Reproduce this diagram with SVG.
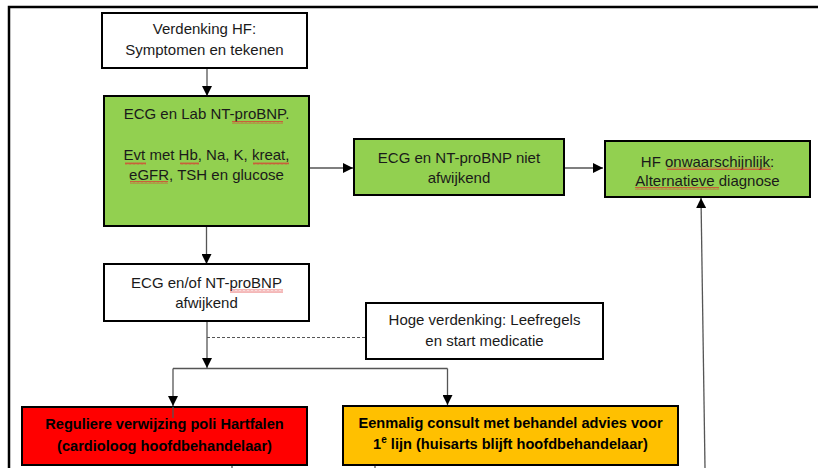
<svg xmlns="http://www.w3.org/2000/svg" width="818" height="468" viewBox="0 0 818 468">
<style>
.box{stroke:#000;stroke-width:2}
.w{fill:#fff}
.g{fill:#92D050}
.r{fill:#FF0000}
.y{fill:#FFC000}
.t{font-family:"Liberation Sans",Arial,sans-serif;font-size:15px;fill:#1a1a1a;text-anchor:middle}
.b{font-weight:bold;fill:#000;font-size:14.6px}
.c{fill:none;stroke:#555;stroke-width:1.3}
.d{fill:none;stroke:#555;stroke-width:1.2;stroke-dasharray:3,2}
.sq{fill:url(#zig)}
</style>
<defs>
<marker id="ah" viewBox="0 0 10 10" refX="10" refY="5" markerWidth="10" markerHeight="10" markerUnits="userSpaceOnUse" orient="auto">
<path d="M0,0 L10,5 L0,10 Z" fill="#000"/>
</marker>
<pattern id="zig" width="4" height="3" patternUnits="userSpaceOnUse">
<path d="M0,2.5 L1,0.5 L2,2.5 L3,0.5 L4,2.5" fill="none" stroke="#e03030" stroke-width="0.7"/>
</pattern>
</defs>
<rect width="818" height="468" fill="#fff"/>
<path d="M9,468 V7 H818" fill="none" stroke="#000" stroke-width="2.5"/>

<g id="connectors">
<path class="c" d="M207,68 V96" marker-end="url(#ah)"/>
<path class="c" d="M309,168 H353" marker-end="url(#ah)"/>
<path class="c" d="M564,168 H603" marker-end="url(#ah)"/>
<path class="c" d="M206.5,226 V264" marker-end="url(#ah)"/>
<path class="c" d="M207,321 V368" marker-end="url(#ah)"/>
<path class="d" d="M207,337.5 H366"/>
<path class="c" d="M173,368.5 H447.5"/>
<path class="c" d="M173,368.5 V406" marker-end="url(#ah)"/>
<path class="c" d="M447.5,368.5 V405" marker-end="url(#ah)"/>
<path class="c" d="M705,468 L701,198" marker-end="url(#ah)"/>
<path class="c" d="M232,465 V468"/>
<path class="c" d="M375,465 V468"/>
</g>

<g id="n1">
<rect class="box w" x="102" y="13" width="205" height="55"/>
<text class="t" x="204.5" y="34">Verdenking HF:</text>
<text class="t" x="204.5" y="55">Symptomen en tekenen</text>
</g>

<g id="n2">
<rect class="box g" x="104" y="96" width="205" height="130"/>
<text class="t" x="206.5" y="119">ECG en Lab NT-proBNP.</text>
<text class="t" x="206.5" y="160">Evt met Hb, Na, K, kreat,</text>
<text class="t" x="206.5" y="180">eGFR, TSH en glucose</text>
<rect class="sq" x="232" y="121" width="51" height="3"/>
<rect class="sq" x="125" y="162" width="21" height="3"/>
<rect class="sq" x="180" y="162" width="19" height="3"/>
<rect class="sq" x="253" y="162" width="36" height="3"/>
<rect class="sq" x="130" y="181" width="38" height="3"/>
</g>

<g id="n3">
<rect class="box g" x="354" y="139" width="210" height="56"/>
<text class="t" x="459" y="163">ECG en NT-proBNP niet</text>
<text class="t" x="459" y="183">afwijkend</text>
</g>

<g id="n4">
<rect class="box g" x="605" y="141" width="205" height="56"/>
<text class="t" x="707.5" y="167">HF onwaarschijnlijk:</text>
<text class="t" x="707.5" y="186">Alternatieve diagnose</text>
<rect class="sq" x="667" y="167" width="104" height="3"/>
<rect class="sq" x="635" y="187" width="84" height="3"/>
</g>

<g id="n5">
<rect class="box w" x="104" y="264" width="205" height="57"/>
<text class="t" x="206.5" y="288">ECG en/of NT-proBNP</text>
<text class="t" x="206.5" y="308">afwijkend</text>
<rect class="sq" x="230" y="289.5" width="53" height="3"/>
</g>

<g id="n6">
<rect class="box w" x="366" y="303" width="237" height="56"/>
<text class="t" x="484.5" y="325">Hoge verdenking: Leefregels</text>
<text class="t" x="484.5" y="346">en start medicatie</text>
</g>

<g id="n7">
<rect class="box r" x="22" y="407" width="285" height="58"/>
<text class="t b" x="164.5" y="429">Reguliere verwijzing poli Hartfalen</text>
<text class="t b" x="164.5" y="451">(cardioloog hoofdbehandelaar)</text>
<path class="c" d="M173,407 V418"/>
</g>

<g id="n8">
<rect class="box y" x="343" y="406" width="335" height="59"/>
<text class="t b" x="510.5" y="428">Eenmalig consult met behandel advies voor</text>
<text class="t b" x="510.5" y="449">1<tspan font-size="10" dy="-6">e</tspan><tspan dy="6"> lijn (huisarts blijft hoofdbehandelaar)</tspan></text>
</g>
</svg>
